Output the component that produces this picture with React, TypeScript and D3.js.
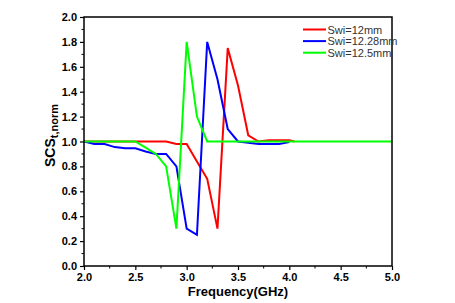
import React, { useEffect, useRef } from 'react';
import * as d3 from 'd3';

// Swi=12mm
const freqRed = [2.0, 2.1, 2.2, 2.3, 2.4, 2.5, 2.6, 2.7, 2.8, 2.9, 3.0, 3.1, 3.2, 3.3, 3.4, 3.5, 3.6, 3.7, 3.8, 3.9, 4.0, 4.05];
const scsRed = [1.0, 1.0, 1.0, 1.0, 1.0, 1.0, 1.0, 1.0, 1.0, 0.98, 0.98, 0.84, 0.70, 0.30, 1.75, 1.45, 1.05, 1.0, 1.01, 1.01, 1.01, 1.0];

// Swi=12.28mm
const freqBlue = [2.0, 2.1, 2.2, 2.3, 2.4, 2.5, 2.6, 2.7, 2.8, 2.9, 3.0, 3.1, 3.2, 3.3, 3.4, 3.5, 3.6, 3.7, 3.8, 3.9, 4.0];
const scsBlue = [1.0, 0.98, 0.98, 0.955, 0.945, 0.945, 0.92, 0.9, 0.9, 0.8, 0.3, 0.25, 1.8, 1.5, 1.1, 1.0, 0.99, 0.98, 0.98, 0.98, 0.995];

// Swi=12.5mm
const freqGreen = [2.0, 2.5, 2.6, 2.7, 2.8, 2.9, 3.0, 3.1, 3.2, 5.0];
const scsGreen = [1.0, 1.0, 0.95, 0.9, 0.8, 0.3, 1.8, 1.2, 1.0, 1.0];

const legendLabels = ['Swi=12mm', 'Swi=12.28mm', 'Swi=12.5mm'];
const seriesColors = ['#ff0000', '#0000ff', '#00ff00'];

const xTicks = [2.0, 2.5, 3.0, 3.5, 4.0, 4.5, 5.0];
const yTicks = [0.0, 0.2, 0.4, 0.6, 0.8, 1.0, 1.2, 1.4, 1.6, 1.8, 2.0];

const FONT = '"Liberation Sans", Arial, sans-serif';

const Chart: React.FC = () => {
  const svgRef = useRef<SVGSVGElement>(null);
  const width = 455;
  const height = 303;

  useEffect(() => {
    if (!svgRef.current) return;
    const svg = d3.select(svgRef.current);
    svg.selectAll('*').remove();

    const margin = { top: 17, right: 63, bottom: 37, left: 84 };
    const innerWidth = width - margin.left - margin.right;
    const innerHeight = height - margin.top - margin.bottom;

    const x = d3.scaleLinear().domain([2, 5]).range([margin.left, margin.left + innerWidth]);
    const y = d3.scaleLinear().domain([0, 2]).range([margin.top + innerHeight, margin.top]);

    // clip
    svg.append('defs').append('clipPath').attr('id', 'plot-clip')
      .append('rect')
      .attr('x', margin.left).attr('y', margin.top)
      .attr('width', innerWidth).attr('height', innerHeight);

    const series = [
      { xs: freqRed, ys: scsRed },
      { xs: freqBlue, ys: scsBlue },
      { xs: freqGreen, ys: scsGreen },
    ];

    const line = d3.line<[number, number]>()
      .x(d => x(d[0]))
      .y(d => y(d[1]));

    const lines = svg.append('g').attr('clip-path', 'url(#plot-clip)');
    series.forEach((s, i) => {
      const pts = s.xs.map((f, j) => [f, s.ys[j]] as [number, number]);
      lines.append('path')
        .datum(pts)
        .attr('fill', 'none')
        .attr('stroke', seriesColors[i])
        .attr('stroke-width', 2)
        .attr('stroke-linejoin', 'miter')
        .attr('d', line);
    });

    // x axis
    const xAxis = d3.axisBottom(x)
      .tickValues(xTicks)
      .tickFormat(d3.format('.1f'))
      .tickSize(4)
      .tickPadding(3);
    const gx = svg.append('g')
      .attr('transform', `translate(0,${margin.top + innerHeight})`)
      .call(xAxis);
    gx.select('.domain').remove();
    gx.selectAll('text')
      .attr('font-family', FONT).attr('font-size', 11).attr('font-weight', 'bold').attr('fill', '#000');
    gx.selectAll('line').attr('stroke', '#000').attr('stroke-width', 1.2);

    const xMinor = d3.range(2.25, 5, 0.5);
    svg.append('g').selectAll('line').data(xMinor).enter().append('line')
      .attr('x1', d => x(d)).attr('x2', d => x(d))
      .attr('y1', margin.top + innerHeight).attr('y2', margin.top + innerHeight + 2.5)
      .attr('stroke', '#000').attr('stroke-width', 1);

    // y axis
    const yAxis = d3.axisLeft(y)
      .tickValues(yTicks)
      .tickFormat(d3.format('.1f'))
      .tickSize(4)
      .tickPadding(3);
    const gy = svg.append('g')
      .attr('transform', `translate(${margin.left},0)`)
      .call(yAxis);
    gy.select('.domain').remove();
    gy.selectAll('text')
      .attr('font-family', FONT).attr('font-size', 11).attr('font-weight', 'bold').attr('fill', '#000');
    gy.selectAll('line').attr('stroke', '#000').attr('stroke-width', 1.2);

    const yMinor = d3.range(0.1, 2, 0.2);
    svg.append('g').selectAll('line').data(yMinor).enter().append('line')
      .attr('x1', margin.left - 2.5).attr('x2', margin.left)
      .attr('y1', d => y(d)).attr('y2', d => y(d))
      .attr('stroke', '#000').attr('stroke-width', 1);

    // frame
    svg.append('rect')
      .attr('x', margin.left).attr('y', margin.top)
      .attr('width', innerWidth).attr('height', innerHeight)
      .attr('fill', 'none').attr('stroke', '#000').attr('stroke-width', 1.5);

    // axis titles
    svg.append('text')
      .attr('x', margin.left + innerWidth / 2).attr('y', 296)
      .attr('text-anchor', 'middle')
      .attr('font-family', FONT).attr('font-size', 13).attr('font-weight', 'bold')
      .text('Frequency(GHz)');

    const yt = svg.append('text')
      .attr('transform', `translate(55,${margin.top + innerHeight / 2 - 6}) rotate(-90)`)
      .attr('text-anchor', 'middle')
      .attr('font-family', FONT).attr('font-size', 14).attr('font-weight', 'bold');
    yt.append('tspan').text('SCS');
    yt.append('tspan').attr('font-size', 11).attr('dy', 3).text('t,norm');

    // legend
    const legend = svg.append('g');
    legendLabels.forEach((lab, i) => {
      const ly = 29.5 + i * 11.6;
      legend.append('line')
        .attr('x1', 303).attr('x2', 326)
        .attr('y1', ly).attr('y2', ly)
        .attr('stroke', seriesColors[i]).attr('stroke-width', 2);
      legend.append('text')
        .attr('x', 327.5).attr('y', ly + 4)
        .attr('font-family', FONT).attr('font-size', 11)
        .attr('fill', '#333')
        .text(lab);
    });
  }, []);

  return <svg ref={svgRef} width={width} height={height} style={{ display: 'block' }} />;
};

export default function App() {
  return (
    <div style={{ position: 'absolute', left: 0, top: 0, background: '#fff' }}>
      <Chart />
    </div>
  );
}
